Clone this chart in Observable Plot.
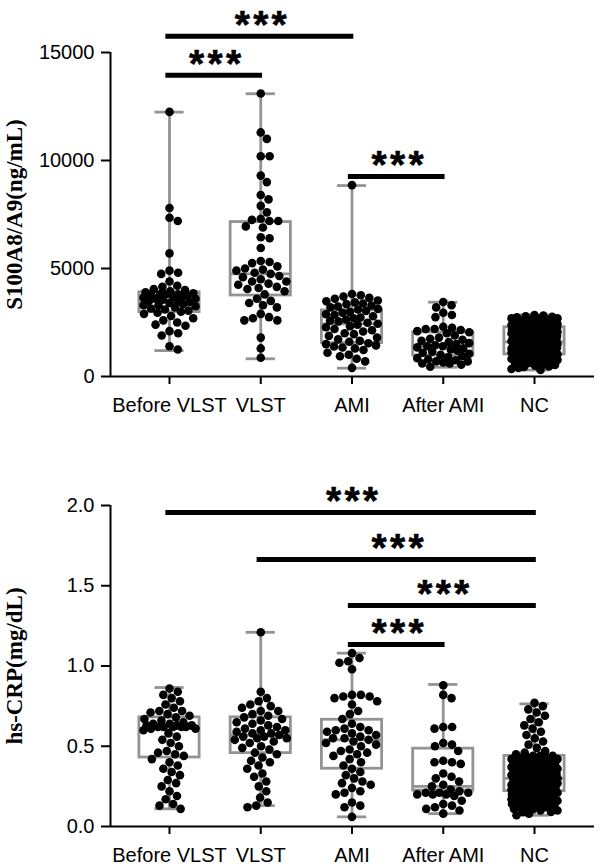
<!DOCTYPE html>
<html><head><meta charset="utf-8">
<script src="https://cdn.jsdelivr.net/npm/d3@7"></script>
<script src="https://cdn.jsdelivr.net/npm/@observablehq/plot@0.6"></script>
<style>
html,body{margin:0;padding:0;background:#fff;}
#chart svg{display:block;}
</style></head><body><div id="chart"></div>
<script>
// ---------- categories ----------
const categories = ["Before VLST", "VLST", "AMI", "After AMI", "NC"];

// ---------- Panel 1: S100A8/A9 (ng/mL) ----------
const s100Label = "S100A8/A9(ng/mL)";
const s100Ticks = [0, 5000, 10000, 15000];
const s100BeforeVLST = [12250, 7800, 7350, 7200, 5700, 4900, 4800, 4750, 4400, 4200, 4150, 4050, 4000, 3950, 3900, 3850, 3800, 3800, 3800, 3800, 3750, 3700, 3700, 3650, 3600, 3600, 3550, 3500, 3500, 3450, 3400, 3350, 3300, 3300, 3250, 3200, 3150, 3100, 3050, 3000, 2950, 2900, 2800, 2700, 2600, 2500, 2400, 2350, 2100, 2000, 1900, 1400, 1250];
const s100VLST = [13100, 11300, 11000, 10200, 10200, 9300, 9000, 8400, 8200, 7900, 7600, 7300, 7250, 7200, 7200, 6950, 6900, 6450, 6400, 5950, 5350, 5300, 5250, 5100, 5000, 4950, 4900, 4800, 4750, 4650, 4600, 4500, 4400, 4400, 4300, 4250, 4150, 4100, 4050, 3950, 3800, 3600, 3500, 3400, 3300, 3200, 2900, 2750, 2700, 2600, 2600, 1800, 1300, 870];
const s100AMI = [8860, 3820, 3760, 3700, 3640, 3600, 3520, 3480, 3430, 3380, 3350, 3290, 3240, 3200, 3130, 3100, 3040, 2990, 2950, 2880, 2850, 2790, 2730, 2700, 2640, 2580, 2550, 2490, 2440, 2400, 2330, 2280, 2200, 2140, 2080, 2000, 1960, 1880, 1800, 1720, 1650, 1610, 1540, 1500, 1440, 1390, 1340, 1300, 1230, 1100, 1010, 940, 820, 700, 400];
const s100AfterAMI = [3450, 3300, 3200, 2950, 2850, 2750, 2300, 2250, 2200, 2200, 2150, 2100, 2050, 2000, 1900, 1800, 1750, 1700, 1650, 1600, 1550, 1500, 1450, 1400, 1400, 1350, 1300, 1250, 1200, 1150, 1100, 1050, 1000, 950, 900, 850, 800, 750, 700, 700, 650, 600, 600, 550, 450];
const s100NC = [2850, 2820, 2790, 2760, 2740, 2700, 2690, 2650, 2610, 2600, 2570, 2540, 2500, 2490, 2460, 2430, 2400, 2380, 2360, 2330, 2300, 2290, 2260, 2240, 2200, 2190, 2160, 2130, 2100, 2090, 2060, 2030, 2000, 1990, 1960, 1940, 1900, 1880, 1860, 1830, 1800, 1780, 1760, 1730, 1700, 1690, 1660, 1630, 1600, 1590, 1560, 1530, 1500, 1480, 1460, 1430, 1400, 1390, 1360, 1330, 1300, 1280, 1260, 1230, 1200, 1190, 1160, 1130, 1100, 1080, 1060, 1030, 1000, 980, 960, 930, 900, 870, 850, 820, 800, 770, 740, 710, 680, 650, 620, 590, 560, 530, 500, 470, 440, 400, 350, 300,
  2450, 2350, 2250, 2150, 2050, 1950, 1850, 1750, 1650, 1550, 1450, 1350, 1250, 1150, 1050, 950, 2420, 2310, 2220, 2110, 2020, 1910, 1820, 1710, 1620, 1510, 1420, 1310, 1220, 1110, 1020, 910, 820, 2380, 2180, 1980, 1780, 1580, 1380, 1180, 980];
const s100Min    = [1200, 820, 385, 430, 300];
const s100Q1     = [2980, 3750, 1550, 970, 1020];
const s100Median = [3500, 4750, 2440, 1400, 1600];
const s100Q3     = [3900, 7150, 3060, 2040, 2280];
const s100Max    = [12240, 13090, 8840, 3440, 2850];
const s100CompFrom = [0, 0, 2];
const s100CompTo   = [2, 1, 3];
const s100CompAt   = [15750, 13950, 9260];

// ---------- Panel 2: hs-CRP (mg/dL) ----------
const crpLabel = "hs-CRP(mg/dL)";
const crpTicks = [0, 0.5, 1.0, 1.5, 2.0];
const crpBeforeVLST = [0.86, 0.84, 0.82, 0.80, 0.78, 0.76, 0.74, 0.72, 0.72, 0.71, 0.70, 0.69, 0.68, 0.67, 0.66, 0.65, 0.64, 0.64, 0.63, 0.63, 0.63, 0.62, 0.62, 0.62, 0.62, 0.62, 0.61, 0.61, 0.60, 0.58, 0.56, 0.54, 0.52, 0.50, 0.47, 0.46, 0.45, 0.44, 0.42, 0.40, 0.38, 0.36, 0.34, 0.32, 0.29, 0.27, 0.25, 0.22, 0.19, 0.17, 0.14, 0.13, 0.11];
const crpVLST = [1.21, 0.84, 0.80, 0.78, 0.76, 0.75, 0.74, 0.72, 0.72, 0.70, 0.69, 0.68, 0.67, 0.66, 0.65, 0.64, 0.63, 0.62, 0.61, 0.60, 0.60, 0.59, 0.58, 0.58, 0.57, 0.56, 0.56, 0.55, 0.55, 0.54, 0.53, 0.52, 0.50, 0.49, 0.48, 0.46, 0.45, 0.43, 0.41, 0.40, 0.38, 0.36, 0.33, 0.31, 0.28, 0.25, 0.22, 0.18, 0.15, 0.13, 0.12];
const crpAMI = [1.08, 1.05, 1.03, 1.02, 0.98, 0.82, 0.82, 0.81, 0.81, 0.80, 0.78, 0.76, 0.72, 0.70, 0.67, 0.64, 0.62, 0.61, 0.60, 0.60, 0.59, 0.58, 0.57, 0.56, 0.55, 0.55, 0.54, 0.53, 0.52, 0.51, 0.50, 0.48, 0.47, 0.46, 0.45, 0.44, 0.42, 0.40, 0.38, 0.36, 0.34, 0.32, 0.30, 0.28, 0.27, 0.26, 0.24, 0.22, 0.21, 0.20, 0.15, 0.13, 0.12, 0.06];
const crpAfterAMI = [0.88, 0.82, 0.80, 0.62, 0.62, 0.61, 0.52, 0.51, 0.50, 0.47, 0.41, 0.40, 0.40, 0.39, 0.33, 0.31, 0.30, 0.28, 0.26, 0.25, 0.23, 0.22, 0.21, 0.21, 0.21, 0.20, 0.20, 0.20, 0.19, 0.16, 0.14, 0.13, 0.12, 0.11, 0.10, 0.08];
const crpNC = [0.77, 0.75, 0.73, 0.71, 0.69, 0.67, 0.65, 0.63, 0.61, 0.59, 0.57, 0.55, 0.53, 0.51, 0.49, 0.47, 0.46, 0.45, 0.44, 0.44, 0.43, 0.43, 0.42, 0.42, 0.41, 0.41, 0.40, 0.40, 0.39, 0.39, 0.38, 0.38, 0.37, 0.37, 0.36, 0.36, 0.35, 0.35, 0.34, 0.34, 0.33, 0.33, 0.32, 0.32, 0.31, 0.31, 0.30, 0.30, 0.29, 0.29, 0.28, 0.28, 0.27, 0.27, 0.26, 0.26, 0.25, 0.25, 0.24, 0.24, 0.23, 0.23, 0.22, 0.22, 0.21, 0.21, 0.20, 0.20, 0.19, 0.19, 0.18, 0.18, 0.17, 0.17, 0.16, 0.16, 0.15, 0.15, 0.14, 0.14, 0.13, 0.13, 0.12, 0.12, 0.11, 0.11, 0.10, 0.10, 0.09, 0.09, 0.08, 0.07,
  0.43, 0.42, 0.41, 0.40, 0.39, 0.38, 0.37, 0.36, 0.35, 0.34, 0.33, 0.32, 0.31, 0.30, 0.29, 0.28, 0.27, 0.26, 0.25, 0.24, 0.23, 0.22, 0.21, 0.20, 0.19, 0.18, 0.17, 0.16, 0.15, 0.14, 0.13, 0.12, 0.44, 0.41, 0.38, 0.35, 0.32, 0.29, 0.26, 0.23, 0.20, 0.17, 0.14];
const crpMin    = [0.11, 0.13, 0.06, 0.08, 0.07];
const crpQ1     = [0.43, 0.457, 0.36, 0.224, 0.22];
const crpMedian = [0.61, 0.57, 0.54, 0.25, 0.30];
const crpQ3     = [0.68, 0.68, 0.665, 0.485, 0.44];
const crpMax    = [0.866, 1.21, 1.08, 0.885, 0.764];
const crpCompFrom = [0, 1, 2, 2];
const crpCompTo   = [4, 4, 4, 3];
const crpCompAt   = [1.956, 1.664, 1.377, 1.134];

// ---------- layout / style ----------
const W = 600, ML = 110, MR = 6;
const xDomain = [-0.6466, 4.6575];
const boxHalf = 0.33, capHalf = 0.16;
const gray = "#939393";
const dotR = 4.3;
const swarmHalf = [26, 26, 26, 26, 23];
const starText = "*\u200A*\u200A*";
const stepPx = (W - ML - MR) / (xDomain[1] - xDomain[0]);

function swarm(vals, yPx, r, maxHalf) {
  const d = 2 * r + 0.3;
  const pts = vals.map(v => ({v, y: yPx(v)})).sort((a, b) => a.y - b.y);
  const placed = [];
  for (const p of pts) {
    const near = placed.filter(q => Math.abs(q.y - p.y) < d);
    const cands = [0];
    for (const q of near) {
      const w = Math.sqrt(d * d - (q.y - p.y) ** 2);
      cands.push(q.x + w, q.x - w);
    }
    cands.sort((a, b) => Math.abs(a) - Math.abs(b));
    let best = null;
    for (const c of cands) {
      if (Math.abs(c) > maxHalf + 1e-9) break;
      if (near.every(q => (q.x - c) ** 2 + (q.y - p.y) ** 2 >= d * d - 1e-6)) { best = c; break; }
    }
    if (best === null) {
      let bestScore = -Infinity;
      for (let c = -maxHalf; c <= maxHalf + 1e-9; c += 0.5) {
        const s = Math.min(...near.map(q => Math.hypot(q.x - c, q.y - p.y)));
        if (s > bestScore + 1e-9 || (Math.abs(s - bestScore) < 1e-9 && Math.abs(c) < Math.abs(best))) { bestScore = s; best = c; }
      }
    }
    p.x = best;
    placed.push(p);
  }
  return placed;
}

function panel(cfg) {
  const {groups, mins, q1s, meds, q3s, maxs, ticks, fmt, yMax, label, from, to, at, height, mt, mb} = cfg;
  const yPx = v => mt + (1 - v / yMax) * (height - mt - mb);
  const dots = [];
  groups.forEach((vals, i) => {
    for (const p of swarm(vals, yPx, dotR, swarmHalf[i])) dots.push({xi: i + p.x / stepPx, v: p.v});
  });
  const boxes = categories.map((c, i) => ({i, min: mins[i], q1: q1s[i], med: meds[i], q3: q3s[i], max: maxs[i]}));
  const comps = from.map((f, k) => ({from: f, to: to[k], at: at[k]}));
  return Plot.plot({
    width: W, height, marginLeft: ML, marginRight: MR, marginTop: mt, marginBottom: mb,
    style: {fontFamily: "Liberation Sans, Arial, sans-serif", fontSize: "20px", color: "#000", background: "#fff"},
    x: {type: "linear", domain: xDomain},
    y: {type: "linear", domain: [0, yMax]},
    marks: [
      // whiskers
      Plot.ruleX(boxes, {x: "i", y1: "min", y2: "q1", stroke: gray, strokeWidth: 2.8}),
      Plot.ruleX(boxes, {x: "i", y1: "q3", y2: "max", stroke: gray, strokeWidth: 2.8}),
      Plot.ruleY(boxes, {y: "min", x1: d => d.i - capHalf, x2: d => d.i + capHalf, stroke: gray, strokeWidth: 2.8}),
      Plot.ruleY(boxes, {y: "max", x1: d => d.i - capHalf, x2: d => d.i + capHalf, stroke: gray, strokeWidth: 2.8}),
      // boxes
      Plot.rect(boxes, {x1: d => d.i - boxHalf, x2: d => d.i + boxHalf, y1: "q1", y2: "q3", fill: "none", stroke: gray, strokeWidth: 2.8}),
      Plot.ruleY(boxes, {y: "med", x1: d => d.i - boxHalf, x2: d => d.i + boxHalf, stroke: gray, strokeWidth: 2.8}),
      // dots
      Plot.dot(dots, {x: "xi", y: "v", r: dotR, fill: "#000", stroke: "none"}),
      // axes
      Plot.ruleY([0], {stroke: "#000", strokeWidth: 2}),
      Plot.ruleX([xDomain[0]], {y1: 0, y2: yMax, stroke: "#000", strokeWidth: 2}),
      Plot.axisY({ticks, tickFormat: fmt, tickSize: 9, tickPadding: 7, strokeWidth: 2, label: null}),
      Plot.axisX({ticks: categories.map((c, i) => i), tickFormat: i => categories[i], tickSize: 8, tickPadding: 13, strokeWidth: 2, label: null}),
      // y title
      Plot.text([label], {x: xDomain[0] - 96 / stepPx, y: yMax / 2, text: d => d, rotate: -90, fontFamily: "Liberation Serif, Times New Roman, serif", fontWeight: "bold", fontSize: 23}),
      // significance
      Plot.ruleY(comps, {y: "at", x1: d => d.from - 0.04, x2: d => d.to + 0.02, stroke: "#000", strokeWidth: 5}),
      Plot.text(comps, {x: d => (d.from + d.to) / 2, y: "at", text: () => starText, fontSize: 39, fontWeight: "bold", fontFamily: "Liberation Sans, Arial, sans-serif", fill: "#000", stroke: "#000", strokeWidth: 0.6, dy: -11})
    ]
  });
}

const chart = document.getElementById("chart");
chart.appendChild(panel({
  groups: [s100BeforeVLST, s100VLST, s100AMI, s100AfterAMI, s100NC],
  mins: s100Min, q1s: s100Q1, meds: s100Median, q3s: s100Q3, maxs: s100Max,
  ticks: s100Ticks, fmt: d => String(d), yMax: 15000, label: s100Label,
  from: s100CompFrom, to: s100CompTo, at: s100CompAt,
  height: 433, mt: 52, mb: 57
}));
chart.appendChild(panel({
  groups: [crpBeforeVLST, crpVLST, crpAMI, crpAfterAMI, crpNC],
  mins: crpMin, q1s: crpQ1, meds: crpMedian, q3s: crpQ3, maxs: crpMax,
  ticks: crpTicks, fmt: d3.format(".1f"), yMax: 2.0, label: crpLabel,
  from: crpCompFrom, to: crpCompTo, at: crpCompAt,
  height: 433, mt: 72, mb: 40
}));
</script></body></html>
